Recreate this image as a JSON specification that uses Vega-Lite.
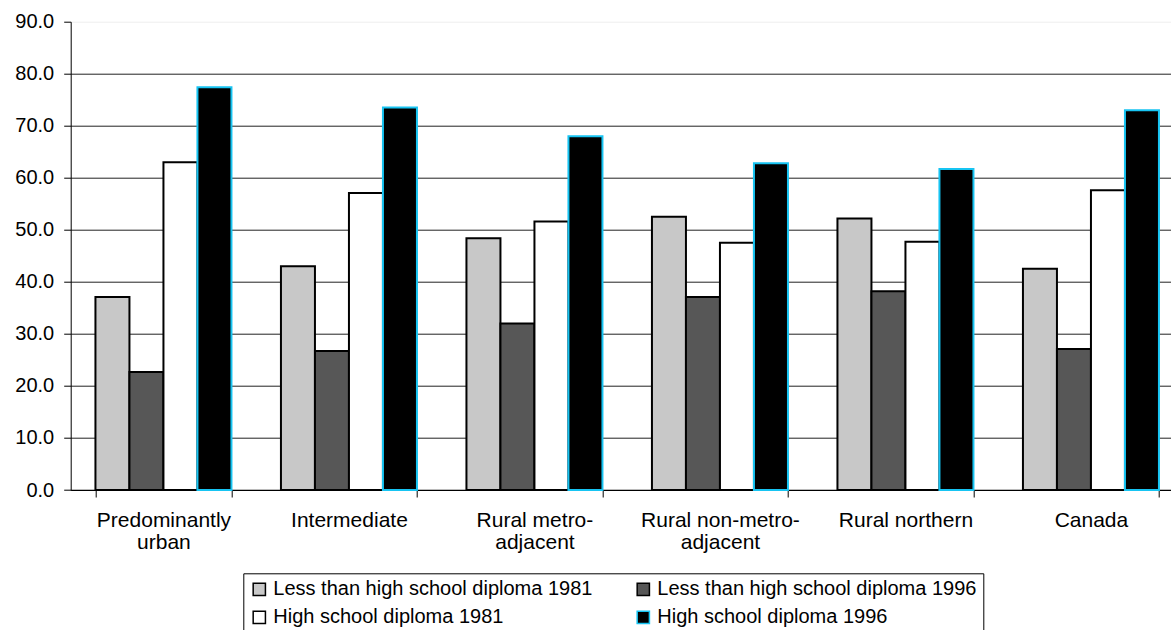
{
  "$schema": "https://vega.github.io/schema/vega-lite/v6.json",
  "autosize": {"type": "none"},
  "padding": {"left": 70.7, "top": 21.7, "right": 0, "bottom": 140},
  "width": 1100.3,
  "height": 468.3,
  "config": {"font": "Liberation Sans", "view": {"stroke": null}},
  "data": {
    "values": [
      {"region": "Predominantly urban", "series": "Less than high school diploma 1981", "value": 37.1},
      {"region": "Predominantly urban", "series": "Less than high school diploma 1996", "value": 22.7},
      {"region": "Predominantly urban", "series": "High school diploma 1981", "value": 63.0},
      {"region": "Predominantly urban", "series": "High school diploma 1996", "value": 77.4},
      {"region": "Intermediate", "series": "Less than high school diploma 1981", "value": 43.0},
      {"region": "Intermediate", "series": "Less than high school diploma 1996", "value": 26.7},
      {"region": "Intermediate", "series": "High school diploma 1981", "value": 57.1},
      {"region": "Intermediate", "series": "High school diploma 1996", "value": 73.5},
      {"region": "Rural metro-adjacent", "series": "Less than high school diploma 1981", "value": 48.4},
      {"region": "Rural metro-adjacent", "series": "Less than high school diploma 1996", "value": 32.0},
      {"region": "Rural metro-adjacent", "series": "High school diploma 1981", "value": 51.6},
      {"region": "Rural metro-adjacent", "series": "High school diploma 1996", "value": 68.0},
      {"region": "Rural non-metro-adjacent", "series": "Less than high school diploma 1981", "value": 52.5},
      {"region": "Rural non-metro-adjacent", "series": "Less than high school diploma 1996", "value": 37.1},
      {"region": "Rural non-metro-adjacent", "series": "High school diploma 1981", "value": 47.5},
      {"region": "Rural non-metro-adjacent", "series": "High school diploma 1996", "value": 62.8},
      {"region": "Rural northern", "series": "Less than high school diploma 1981", "value": 52.2},
      {"region": "Rural northern", "series": "Less than high school diploma 1996", "value": 38.2},
      {"region": "Rural northern", "series": "High school diploma 1981", "value": 47.7},
      {"region": "Rural northern", "series": "High school diploma 1996", "value": 61.7},
      {"region": "Canada", "series": "Less than high school diploma 1981", "value": 42.5},
      {"region": "Canada", "series": "Less than high school diploma 1996", "value": 27.1},
      {"region": "Canada", "series": "High school diploma 1981", "value": 57.6},
      {"region": "Canada", "series": "High school diploma 1996", "value": 73.0}
    ]
  },
  "mark": {"type": "bar", "strokeWidth": 2},
  "encoding": {
    "x": {
      "field": "region",
      "type": "nominal",
      "sort": ["Predominantly urban", "Intermediate", "Rural metro-adjacent", "Rural non-metro-adjacent", "Rural northern", "Canada"],
      "scale": {"range": [0, 1113], "paddingInner": 0.2668, "paddingOuter": 0.1334},
      "axis": {
        "title": null,
        "labelAngle": 0,
        "labelFontSize": 21,
        "labelColor": "black",
        "tickColor": "black",
        "tickSize": 7,
        "domainColor": "black",
        "labelPadding": 12,
        "labelLineHeight": 22,
        "labelLimit": 400,
        "tickBand": "extent",
        "grid": false,
        "labelExpr": "datum.label == 'Predominantly urban' ? ['Predominantly', 'urban'] : datum.label == 'Rural metro-adjacent' ? ['Rural metro-', 'adjacent'] : datum.label == 'Rural non-metro-adjacent' ? ['Rural non-metro-', 'adjacent'] : datum.label"
      }
    },
    "xOffset": {
      "field": "series",
      "type": "nominal",
      "sort": ["Less than high school diploma 1981", "Less than high school diploma 1996", "High school diploma 1981", "High school diploma 1996"],
      "scale": {"paddingInner": 0, "paddingOuter": 0}
    },
    "y": {
      "field": "value",
      "type": "quantitative",
      "scale": {"domain": [0, 90], "nice": false},
      "axis": {
        "title": null,
        "values": [0, 10, 20, 30, 40, 50, 60, 70, 80, 90],
        "format": ".1f",
        "labelFontSize": 20,
        "labelColor": "black",
        "tickColor": "black",
        "tickSize": 7,
        "domainColor": "black",
        "labelPadding": 10,
        "labelFlush": false,
        "labelOverlap": false,
        "gridColor": {"condition": {"test": "datum.value === 90", "value": "#eeeeee"}, "value": "#222222"},
        "gridWidth": 1
      }
    },
    "fill": {
      "field": "series",
      "type": "nominal",
      "scale": {
        "domain": ["Less than high school diploma 1981", "Less than high school diploma 1996", "High school diploma 1981", "High school diploma 1996"],
        "range": ["#c8c8c8", "#575757", "#ffffff", "#000000"]
      },
      "legend": {
        "title": null,
        "orient": "none",
        "legendX": 172.6,
        "legendY": 551.6,
        "columns": 2,
        "direction": "horizontal",
        "strokeColor": "black",
        "padding": 6,
        "symbolType": "square",
        "symbolSize": 150,
        "symbolStrokeWidth": 1.5,
        "labelFontSize": 20,
        "labelColor": "black",
        "labelOffset": 4,
        "labelLimit": 500,
        "rowPadding": 8,
        "columnPadding": 40
      }
    },
    "stroke": {
      "field": "series",
      "type": "nominal",
      "scale": {
        "domain": ["Less than high school diploma 1981", "Less than high school diploma 1996", "High school diploma 1981", "High school diploma 1996"],
        "range": ["#000000", "#000000", "#000000", "#17c4f2"]
      },
      "legend": {
        "title": null,
        "orient": "none",
        "legendX": 172.6,
        "legendY": 551.6,
        "columns": 2,
        "direction": "horizontal",
        "strokeColor": "black",
        "padding": 6,
        "symbolType": "square",
        "symbolSize": 150,
        "symbolStrokeWidth": 1.5,
        "labelFontSize": 20,
        "labelColor": "black",
        "labelOffset": 4,
        "labelLimit": 500,
        "rowPadding": 8,
        "columnPadding": 40
      }
    }
  }
}
